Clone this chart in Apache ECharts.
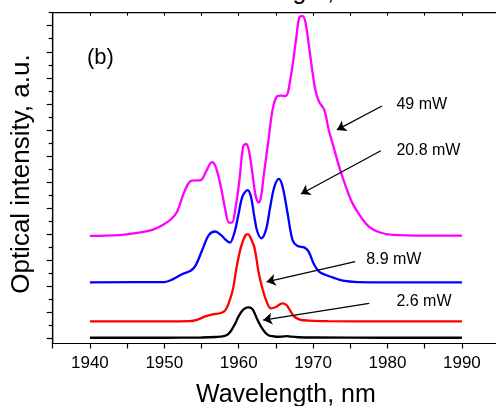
<!DOCTYPE html>
<html>
<head>
<meta charset="utf-8">
<script src="https://cdn.jsdelivr.net/npm/echarts@6/dist/echarts.min.js"></script>
<style>
html,body{margin:0;padding:0;background:#fff;}
#chart{width:496px;height:406px;}
</style>
</head>
<body>
<div id="chart"></div>
<script>
// Wavelength axis ticks/labels
const xTicks = [1935,1940,1945,1950,1955,1960,1965,1970,1975,1980,1985,1990,1995];
const xLabels = [1940,1950,1960,1970,1980,1990];
const yMajor = [0,1,2,3,4,5,6,7,8,9,10,11,12];
const yMinor = [0.5,1.5,2.5,3.5,4.5,5.5,6.5,7.5,8.5,9.5,10.5,11.5,12.5];

// 2.6 mW (black)
const wl26 = [1940,1950,1955,1957,1958,1958.5,1959,1959.5,1960,1960.5,1961,1961.3,1961.7,1962,1962.5,1963,1963.5,1964,1964.5,1965,1966,1966.5,1967,1968,1970,1980,1990];
const int26 = [0.02,0.02,0.03,0.05,0.08,0.14,0.3,0.55,0.85,1.07,1.17,1.19,1.16,1.05,0.72,0.45,0.24,0.12,0.08,0.06,0.07,0.08,0.06,0.04,0.03,0.02,0.02];
// 8.9 mW (red)
const wl89 = [1940,1950,1953.4,1954.5,1955.5,1956.5,1957.6,1958.2,1958.6,1959.2,1959.7,1960.3,1960.9,1961.25,1961.6,1962.1,1962.7,1963.2,1963.7,1964.3,1965.0,1965.5,1965.9,1966.4,1966.8,1967.4,1968.2,1969.5,1972,1980,1990];
const int89 = [0.65,0.65,0.66,0.72,0.84,0.92,0.97,1.08,1.3,1.85,2.7,3.5,3.95,4.0,3.85,3.5,2.5,1.9,1.45,1.15,1.2,1.3,1.34,1.28,1.12,0.85,0.72,0.68,0.66,0.65,0.65];
// 20.8 mW (blue)
const wl208 = [1940,1950,1951.1,1952.45,1953.6,1954.25,1955.1,1956.0,1956.85,1957.6,1958.3,1958.8,1959.4,1960.0,1960.5,1961.2,1961.64,1962.1,1962.5,1963.05,1963.66,1964.24,1964.8,1965.4,1965.9,1966.57,1967.24,1967.9,1968.8,1969.4,1970.15,1970.8,1971.7,1972.6,1974.0,1976,1980,1990];
const int208 = [2.15,2.16,2.26,2.47,2.6,2.82,3.39,3.97,4.1,3.97,3.77,3.67,4.03,4.8,5.44,5.69,5.44,4.67,4.1,3.84,4.16,5.05,5.82,6.12,5.82,4.8,3.77,3.54,3.49,3.33,2.82,2.56,2.43,2.34,2.21,2.16,2.15,2.15];
// 49 mW (magenta)
const wl49 = [1940,1943.9,1946.6,1948.3,1949.8,1950.9,1951.7,1952.45,1953.1,1953.7,1954.9,1955.6,1956.4,1956.9,1957.6,1958.2,1958.7,1959.1,1959.6,1960.1,1960.6,1961.0,1961.4,1961.9,1962.3,1962.7,1963.0,1963.4,1964.0,1964.55,1965.1,1965.6,1966.3,1967.0,1967.7,1968.2,1968.6,1969.0,1969.7,1970.3,1970.8,1971.5,1972.1,1972.6,1973.5,1974.4,1975.3,1976.4,1977.5,1978.9,1980.7,1985,1990];
const int49 = [3.93,3.96,4.06,4.15,4.35,4.57,4.85,5.44,5.88,6.05,6.07,6.4,6.76,6.59,5.82,4.93,4.44,4.44,5.05,6.08,7.36,7.46,7.17,6.21,5.44,5.21,5.44,6.33,7.61,8.77,9.28,9.32,9.3,10.05,11.45,12.35,12.37,12.09,10.68,9.53,9.08,8.77,8.0,7.5,6.59,5.82,5.18,4.67,4.29,4.07,3.97,3.94,3.94];

// Annotations: labels and arrows (data coordinates)
const labelText = ['(b)','49 mW','20.8 mW','8.9 mW','2.6 mW'];
const labelX = [1939.6,1981.2,1981.2,1977.15,1981.2];
const labelY = [10.76,8.97,7.2,3.04,1.39];
const labelSize = [22,16,16,16,16];
const arrowFrom = [[1979.25,8.92],[1979.1,7.2],[1975.66,2.94],[1977.54,1.34]];
const arrowTo = [[1973.2,8.0],[1968.36,5.54],[1963.74,2.17],[1963.29,0.70]];

const FONT = 'Liberation Sans, Arial, sans-serif';
const pairs = (xs, ys) => xs.map((x,i)=>[x, ys[i]]);

const chart = echarts.init(document.getElementById('chart'), null, {renderer:'canvas'});

const lineSeries = (name, xs, ys, color) => ({
  name, type:'line', data: pairs(xs, ys), xAxisIndex:0, yAxisIndex:0,
  showSymbol:false, smooth:0.35, lineStyle:{color, width:2.3}, itemStyle:{color},
  silent:true, animation:false, z:3
});

const arrowSeries = {
  type:'line', data:[], xAxisIndex:0, yAxisIndex:0, silent:true, animation:false,
  markLine:{
    silent:true, animation:false,
    symbol:['none','arrow'], symbolSize:9,
    lineStyle:{color:'#000', width:1.3, type:'solid'},
    itemStyle:{color:'#000'},
    label:{show:false},
    emphasis:{disabled:true},
    data: arrowFrom.map((f,i)=>[{coord:f},{coord:arrowTo[i]}])
  }
};

const baseOption = {
  animation:false,
  backgroundColor:'#fff',
  grid:{left:52.7, top:12.7, width:446.4, height:330.8, containLabel:false,
    outerBoundsMode:'none',
    show:true, borderColor:'#000', borderWidth:1.2, backgroundColor:'transparent'},
  xAxis:[{
    type:'value', position:'bottom', min:1935, max:1995,
    axisLine:{show:true, onZero:false, lineStyle:{color:'#000', width:1.2}},
    axisTick:{show:true, inside:false, length:5, customValues:xTicks, lineStyle:{color:'#000', width:1.2}},
    axisLabel:{show:true, customValues:xLabels, fontSize:17, color:'#000', fontFamily:FONT, margin:11,
      formatter:(v)=>String(Math.round(v))},
    splitLine:{show:false},
    name:'Wavelength, nm', nameLocation:'middle', nameGap:39,
    nameTextStyle:{fontSize:25, color:'#000', fontFamily:FONT, padding:[0,0,0,20]}
  },{
    type:'value', position:'top', min:1935, max:1995,
    axisLine:{show:true, onZero:false, lineStyle:{color:'#000', width:1.2}},
    axisTick:{show:true, inside:true, length:3, customValues:xTicks, lineStyle:{color:'#000', width:1}},
    axisLabel:{show:false}, splitLine:{show:false}
  }],
  yAxis:[{
    type:'value', position:'left', min:-0.2, max:12.5,
    axisLine:{show:true, onZero:false, lineStyle:{color:'#000', width:1.2}},
    axisTick:{show:true, inside:false, length:6, customValues:yMajor, lineStyle:{color:'#000', width:1.2}},
    axisLabel:{show:false}, splitLine:{show:false},
    name:'Optical intensity, a.u.', nameLocation:'middle', nameGap:18, nameRotate:90,
    nameTextStyle:{fontSize:26, color:'#000', fontFamily:FONT, padding:[0,0,0,8]}
  },{
    type:'value', position:'left', min:-0.2, max:12.5,
    axisLine:{show:false, onZero:false},
    axisTick:{show:true, inside:false, length:4, customValues:yMinor, lineStyle:{color:'#000', width:1.2}},
    axisLabel:{show:false}, splitLine:{show:false}
  }],
  series:[
    lineSeries('49 mW', wl49, int49, '#ff00ff'),
    lineSeries('20.8 mW', wl208, int208, '#0000ff'),
    lineSeries('8.9 mW', wl89, int89, '#ff0000'),
    lineSeries('2.6 mW', wl26, int26, '#000000'),
    arrowSeries
  ]
};
chart.setOption(baseOption);

// Text annotations placed through the axes' own scale
const texts = labelText.map((t,i)=>{
  const p = chart.convertToPixel({xAxisIndex:0, yAxisIndex:0}, [labelX[i], labelY[i]]);
  return {type:'text', silent:true, z:10,
    style:{text:t, x:p[0], y:p[1], align:'left', verticalAlign:'middle',
      font: labelSize[i] + 'px ' + FONT, fill:'#000'}};
});
// clipped axis title of the panel above
texts.push({type:'text', silent:true,
  style:{text:'Wavelength, nm', x:286, y:5, align:'center', verticalAlign:'bottom',
    font:'25px ' + FONT, fill:'#000'}});
chart.setOption({graphic: texts});
</script>
</body>
</html>
